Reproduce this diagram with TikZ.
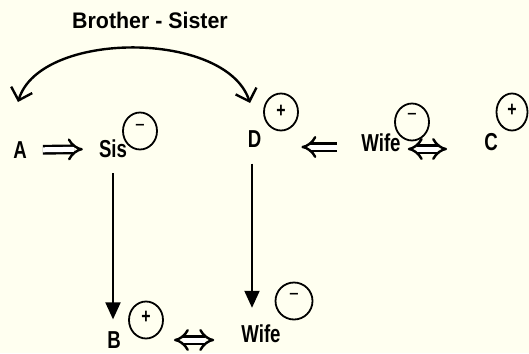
\documentclass[tikz,border=0pt]{standalone}
\usepackage{fontspec}
\setmainfont{Liberation Sans}[FakeStretch=0.76]
\newfontfamily\titlefont{Liberation Sans}[FakeStretch=0.95]
\usetikzlibrary{arrows.meta,shapes.geometric}
\definecolor{bg}{RGB}{255,255,240}
\newcommand{\plussign}[1]{\raisebox{#1}{\fontsize{21}{21}\selectfont\bfseries +}}
\newcommand{\minussign}[1]{\raisebox{#1}{\fontsize{22}{22}\selectfont −}}
\begin{document}
\begin{tikzpicture}[x=1pt,y=-1pt,
  lab/.style={font=\fontsize{24.5}{26}\selectfont\bfseries, inner sep=0pt},
  ttl/.style={font=\titlefont\fontsize{22.5}{26}\selectfont\bfseries, inner sep=0pt},
  sgn/.style={ellipse, draw, line width=1.8pt, minimum width=34pt, minimum height=37pt, inner sep=0pt},
  dbl/.style={double, double distance=5pt, line width=2.4pt, -{Implies}},
  dbltwo/.style={double, double distance=5pt, line width=2.4pt, {Implies}-{Implies}},
  downarrow/.style={line width=2pt, -{Triangle[length=17pt,width=15pt]}},
  bigarc/.style={line width=2.4pt, {Straight Barb[length=11pt,width=22pt]}-{Straight Barb[length=11pt,width=22pt]}}]
\fill[bg] (0,0) rectangle (529,353);
\useasboundingbox (0,0) rectangle (529,353);

\node[ttl] (title) at (150,20) {Brother - Sister};

\node[lab] (A) at (20,150) {A};
\node[lab] (Sis) at (113,149) {Sis};
\node[lab] (D) at (254.5,139) {D};
\node[lab] (Wife1) at (381,143) {Wife};
\node[lab] (C) at (491,142) {C};
\node[lab] (B) at (114,340) {B};
\node[lab] (Wife2) at (261,334) {Wife};

\node[sgn] (s1) at (140,131) {\minussign{6pt}};
\node[sgn] (s2) at (281,112) {\plussign{1pt}};
\node[sgn] (s3) at (412,122) {\minussign{10pt}};
\node[sgn, minimum width=31pt] (s4) at (512,112) {\plussign{3pt}};
\node[sgn] (s5) at (146,320) {\plussign{6pt}};
\node[sgn, minimum width=37pt] (s6) at (294,301) {\minussign{8pt}};

\coordinate (tl) at (18,102);
\coordinate (tr) at (250,103);
\draw[bigarc] (tl) .. controls (40,30) and (226,30) .. (tr);

\draw[dbl, shorten <=16pt, shorten >=16pt] (A.east) -- (Sis.west);
\draw[dbl, shorten <=24pt, shorten >=40pt] ([yshift=-4pt]Wife1.west) -- ([yshift=-4pt]Wife1.west -| D.east);
\draw[dbltwo, shorten <=7pt, shorten >=37pt] ([yshift=-6pt]Wife1.east) -- ([yshift=-6pt]Wife1.east -| C.west);
\draw[dbltwo, shorten <=53pt, shorten >=27pt] (B.east) -- (B.east -| Wife2.west);

\draw[downarrow, shorten <=15pt, shorten >=12pt] (Sis.south) -- (Sis.south |- B.north);
\draw[downarrow, shorten <=16pt, shorten >=17pt] ([xshift=-2.5pt]D.south) -- ([xshift=-2.5pt]D.south |- Wife2.north);
\end{tikzpicture}
\end{document}
